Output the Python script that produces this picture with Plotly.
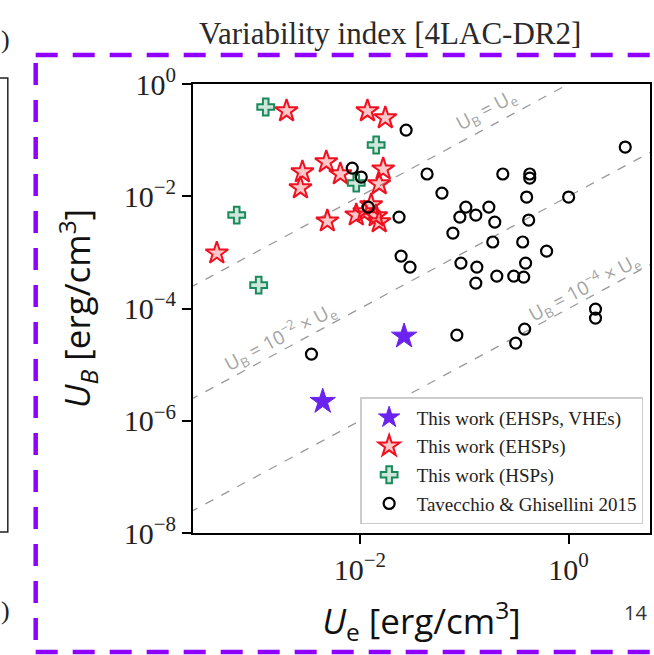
import plotly.graph_objects as go

# ---- data: energy densities U_e (x) and U_B (y) in erg/cm^3 ----
# This work: EHSPs detected at VHE
vhe_ue = [0.0265, 0.0044]
vhe_ub = [3.2e-5, 2.2e-6]

# This work: EHSPs
ehsp_ue = [4.25e-4, 1.98e-3, 0.0118, 0.0175, 2.81e-3, 2.69e-3, 4.76e-3, 6.49e-3,
           0.0167, 0.0153, 4.87e-3, 9.22e-3, 0.0110, 0.0128, 0.0143, 0.0153]
ehsp_ub = [9.7e-4, 0.330, 0.330, 0.248, 0.0270, 0.0140, 0.0407, 0.0249,
           0.0305, 0.0165, 3.61e-3, 4.62e-3, 5.23e-3, 6.97e-3, 4.44e-3, 3.47e-3]

# This work: HSPs
hsp_ue = [1.25e-3, 0.0143, 9.22e-3, 6.59e-4, 1.07e-3]
hsp_ub = [0.389, 0.0818, 0.0172, 4.62e-3, 2.61e-4]

# Tavecchio & Ghisellini 2015
tg_ue = [0.0277, 8.44e-3, 0.0103, 0.0120, 0.0237, 0.0248, 0.0302, 0.0440,
         3.49, 0.234, 0.424, 0.424, 0.0611, 0.396, 1.00, 0.1035,
         0.172, 0.0907, 0.129, 0.196, 0.414, 0.0778, 0.1875, 0.363,
         0.615, 0.0929, 0.132, 0.129, 0.205, 0.298, 0.371, 0.387,
         1.81, 1.81, 0.0849, 0.379, 0.311, 3.43e-3]
tg_ub = [0.151, 0.0318, 0.0220, 6.42e-3, 4.26e-3, 8.59e-4, 5.47e-4, 0.0249,
         0.0753, 0.0249, 0.0249, 0.0211, 0.0114, 9.68e-3, 9.68e-3, 6.42e-3,
         6.42e-3, 4.26e-3, 4.62e-3, 3.47e-3, 3.77e-3, 2.21e-3, 1.53e-3, 1.53e-3,
         1.05e-3, 6.45e-4, 5.47e-4, 2.84e-4, 3.78e-4, 3.78e-4, 3.63e-4, 6.45e-4,
         9.75e-5, 6.75e-5, 3.36e-5, 4.30e-5, 2.42e-5, 1.54e-5]

# equipartition reference lines U_B = k * U_e
eq_factors = [1.0, 1e-2, 1e-4]
eq_labels = ["U<sub>B</sub> = U<sub>e</sub>",
             "U<sub>B</sub> = 10<sup>−2</sup> × U<sub>e</sub>",
             "U<sub>B</sub> = 10<sup>−4</sup> × U<sub>e</sub>"]
# label anchor points (log10 U_e, log10 U_B)
eq_label_pos = [(-0.784, -0.463), (-2.771, -4.510), (0.152, -3.619)]

line_ue = [1e-5, 1e2]

x_tickvals = [1e-2, 1e0]
x_ticktext = ["10<sup>−2</sup>", "10<sup>0</sup>"]
y_tickvals = [1e-8, 1e-6, 1e-4, 1e-2, 1e0]
y_ticktext = ["10<sup>−8</sup>", "10<sup>−6</sup>", "10<sup>−4</sup>",
              "10<sup>−2</sup>", "10<sup>0</sup>"]

SERIF = "Liberation Serif, DejaVu Serif, serif"
SANS = "Open Sans, Noto Sans, sans-serif"

fig = go.Figure()

for k in eq_factors:
    fig.add_trace(go.Scatter(
        x=line_ue, y=[k * u for u in line_ue], mode="lines",
        line=dict(color="#9a9a9a", width=1.3, dash="dash"),
        showlegend=False, hoverinfo="skip"))

fig.add_trace(go.Scatter(
    x=vhe_ue, y=vhe_ub, mode="markers", name="This work (EHSPs, VHEs)",
    legendgroup="a",
    marker=dict(symbol="star", size=19, color="#6a22ee",
                line=dict(color="#6a22ee", width=1))))
fig.add_trace(go.Scatter(
    x=ehsp_ue, y=ehsp_ub, mode="markers", name="This work (EHSPs)",
    legendgroup="b",
    marker=dict(symbol="star", size=17, color="rgba(255,0,0,0.22)",
                line=dict(color="#f01020", width=2))))
fig.add_trace(go.Scatter(
    x=hsp_ue, y=hsp_ub, mode="markers", name="This work (HSPs)",
    legendgroup="c",
    marker=dict(symbol="cross", size=14, color="rgba(30,140,90,0.22)",
                line=dict(color="#1a8a5a", width=2))))
fig.add_trace(go.Scatter(
    x=tg_ue, y=tg_ub, mode="markers", name="Tavecchio & Ghisellini 2015",
    legendgroup="d",
    marker=dict(symbol="circle-open", size=11, color="black",
                line=dict(color="black", width=2.2))))

axis_common = dict(
    type="log", showgrid=False, zeroline=False,
    showline=True, linecolor="black", linewidth=2, mirror=True,
    ticks="outside", ticklen=9, tickwidth=2, tickcolor="black",
    tickfont=dict(family=SERIF, size=30, color="#222"),
)

fig.update_xaxes(
    range=[-3.60, 0.78], tickvals=x_tickvals, ticktext=x_ticktext,
    title=dict(text="<i>U</i><sub>e</sub> [erg/cm<sup>3</sup>]",
               font=dict(family=SANS, size=35, color="#111"), standoff=24),
    **axis_common)
fig.update_yaxes(
    range=[-8, 0], tickvals=y_tickvals, ticktext=y_ticktext,
    title=dict(text="<i>U<sub>B</sub></i> [erg/cm<sup>3</sup>]",
               font=dict(family=SANS, size=35, color="#111"), standoff=22),
    **axis_common)

annotations = []
for text, (lx, ly) in zip(eq_labels, eq_label_pos):
    annotations.append(dict(
        x=lx, y=ly, xref="x", yref="y", text=text, showarrow=False,
        xanchor="center", yanchor="middle",
        textangle=-28, font=dict(family=SANS, size=19, color="#a4a4a4")))

page_text = [
    ("Variability index [4LAC-DR2]", 391, 33, SERIF, 31, "#2a2a2a"),
    ("14", 637, 612, SANS, 20, "#333"),
    (")", 5, 40, SERIF, 26, "#222"),
    (")", 5, 610, SERIF, 26, "#222"),
]
for text, px, py, fam, size, col in page_text:
    annotations.append(dict(
        x=(px - 193) / 459, y=(533 - py) / 449, xref="paper", yref="paper",
        xanchor="center", yanchor="middle", showarrow=False, text=text,
        font=dict(family=fam, size=size, color=col)))

VIOLET = "#8f00ff"
frame_dash = "22px,15px"
x_left = (35 - 193) / 459
y_top = (533 - 55) / 449
y_bot = (533 - 652) / 449
shapes = [
    dict(type="line", xref="paper", yref="paper", x0=x_left, x1=1.05,
         y0=y_top, y1=y_top, line=dict(color=VIOLET, width=4.5, dash=frame_dash)),
    dict(type="line", xref="paper", yref="paper", x0=x_left, x1=x_left,
         y0=(533 - 63) / 449, y1=y_bot,
         line=dict(color=VIOLET, width=4.5, dash=frame_dash)),
    dict(type="line", xref="paper", yref="paper", x0=x_left, x1=1.05,
         y0=y_bot, y1=y_bot, line=dict(color=VIOLET, width=4.5, dash=frame_dash)),
    # edge of the neighbouring panel
    dict(type="path", xref="paper", yref="paper",
         path="M {a},{t} L {b},{t} L {b},{u} L {a},{u}".format(
             a=(0 - 193) / 459 - 0.01, b=(7 - 193) / 459,
             t=(533 - 78) / 449, u=(533 - 532) / 449),
         line=dict(color="#222", width=1.5)),
]

fig.update_layout(
    width=654, height=655,
    margin=dict(l=193, r=2, t=84, b=122, pad=0),
    paper_bgcolor="white", plot_bgcolor="white",
    showlegend=True,
    legend=dict(
        x=0.985, y=0.02, xanchor="right", yanchor="bottom",
        bgcolor="white", bordercolor="#cccccc", borderwidth=1.5,
        font=dict(family=SERIF, size=19, color="#222"),
        tracegroupgap=1, itemsizing="trace", itemwidth=45,
    ),
    annotations=annotations,
    shapes=shapes,
)

fig.write_html("out.html")
